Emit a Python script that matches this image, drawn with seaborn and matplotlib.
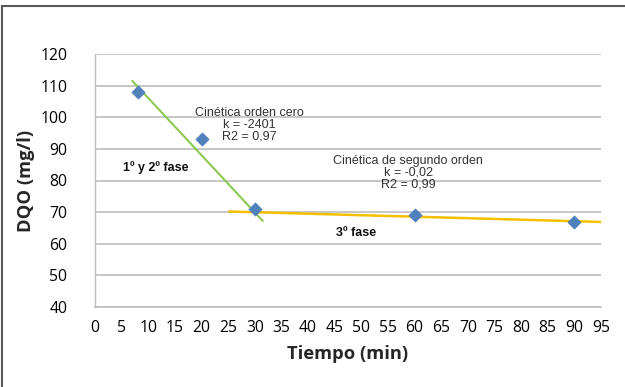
import matplotlib
matplotlib.use("Agg")
import matplotlib.pyplot as plt
import seaborn as sns
import pandas as pd
from matplotlib.patches import Rectangle

# Data
tiempo = [8, 20, 30, 60, 90]
dqo = [108, 93, 71, 69, 67]
# Trend lines
verde_x = [7, 31.5]
verde_y = [111.5, 67.2]
amarillo_x = [25.2, 95]
amarillo_y = [70.2, 66.9]
xticks = list(range(0, 100, 5))
yticks = list(range(40, 130, 10))

sns.set_theme(style="white")
plt.rcParams['font.family'] = ['Open Sans', 'DejaVu Sans']

fig = plt.figure(figsize=(6.25, 3.87), dpi=100)
ax = fig.add_axes([95/625, 1-307/387, (601-95)/625, (307-54)/387])

df = pd.DataFrame({"Tiempo": tiempo, "DQO": dqo})
sns.lineplot(x=verde_x, y=verde_y, ax=ax, color="#8DC852", linewidth=1.5)
sns.lineplot(x=amarillo_x, y=amarillo_y, ax=ax, color="#F5C000", linewidth=1.8)
sns.scatterplot(data=df, x="Tiempo", y="DQO", ax=ax, marker="D", s=45,
                color="#4F81BD", edgecolor="#4F81BD", zorder=5)

ax.set_xlim(0, 95)
ax.set_ylim(40, 120)
ax.set_xticks(xticks)
ax.set_yticks(yticks)
ax.tick_params(axis='both', length=0, labelsize=11.3, colors="#000000")
ax.tick_params(axis='x', pad=9)
ax.tick_params(axis='y', pad=20)
ax.grid(axis='y', color="#BEBEBE", linewidth=1.2)
ax.set_axisbelow(True)
for s in ["top", "right"]:
    ax.spines[s].set_visible(False)
ax.spines["left"].set_color("#BEBEBE")
ax.spines["bottom"].set_color("#BEBEBE")
ax.spines["left"].set_linewidth(1.0)
ax.spines["bottom"].set_linewidth(1.2)

ax.set_xlabel("Tiempo (min)", fontsize=13.2, fontweight="bold", labelpad=7)
ax.set_ylabel("DQO (mg/l)", fontsize=13.2, fontweight="bold", labelpad=4)

arial = ['Liberation Sans', 'DejaVu Sans']
ax.text(29, 97.6, "Cinética orden cero\nk = -2401\nR2 = 0,97", ha="center", va="center",
        fontsize=9, family=arial, color="#333333", linespacing=1.0)
ax.text(58.8, 82.4, "Cinética de segundo orden\nk = -0,02\nR2 = 0,99", ha="center", va="center",
        fontsize=9, family=arial, color="#333333", linespacing=1.0)
ax.text(11.4, 84.1, "1º y 2º fase", ha="center", va="center", fontsize=9,
        fontweight="bold", family=arial, color="#111111")
ax.text(49.0, 63.4, "3º fase", ha="center", va="center", fontsize=9,
        fontweight="bold", family=arial, color="#111111")

# outer chart frame
fig.patches.append(Rectangle((2/625, -0.1), 1.2, 1 - 6/387 + 0.1, transform=fig.transFigure,
                             fill=False, edgecolor="#595959", linewidth=1.5))

fig.savefig("out.png", dpi=100)
